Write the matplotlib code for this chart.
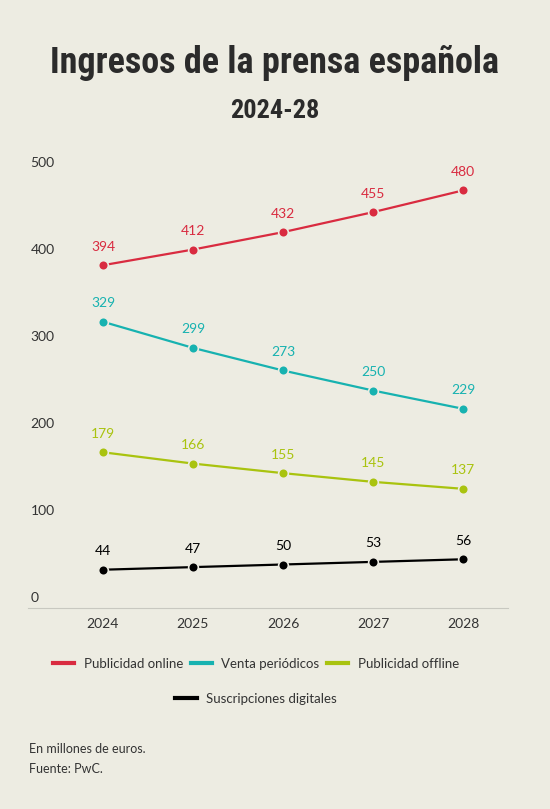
import matplotlib.pyplot as plt
from matplotlib.lines import Line2D
from matplotlib import transforms

years = [2024, 2025, 2026, 2027, 2028]
publicidad_online = [394, 412, 432, 455, 480]
venta_periodicos = [329, 299, 273, 250, 229]
publicidad_offline = [179, 166, 155, 145, 137]
suscripciones_digitales = [44, 47, 50, 53, 56]

series_names = ['Publicidad online', 'Venta periódicos', 'Publicidad offline', 'Suscripciones digitales']
series_values = [publicidad_online, venta_periodicos, publicidad_offline, suscripciones_digitales]
colors = ['#D92B40', '#17B2B0', '#A9C30F', '#000000']
y_ticks = [0, 100, 200, 300, 400, 500]

bg = '#EDECE2'
text_color = '#333333'
body_font = ['Lato', 'DejaVu Sans']
title_font = ['Roboto Condensed', 'DejaVu Sans Condensed', 'Liberation Sans Narrow', 'DejaVu Sans']

fig = plt.figure(figsize=(5.5, 8.09), dpi=100, facecolor=bg)
ax = fig.add_axes([28 / 550, 201 / 809, 480 / 550, 435 / 809])
ax.set_facecolor(bg)

for name, vals, c in zip(series_names, series_values, colors):
    ax.plot(years, vals, color=c, lw=1.6, marker='o', markersize=7,
            markeredgecolor=bg, markeredgewidth=1.2, label=name, clip_on=False, zorder=3)
    for x, v in zip(years, vals):
        ax.annotate(str(v), (x, v), xytext=(0, 9), textcoords='offset points',
                    ha='center', va='bottom', color=c, fontsize=10, family=body_font)

ax.set_xlim(2023.167, 2028.5)
ax.set_ylim(0, 500)
for s in ['top', 'right', 'left']:
    ax.spines[s].set_visible(False)
ax.spines['bottom'].set_color('#C8C8C0')
ax.spines['bottom'].set_linewidth(0.8)

ax.set_xticks(years)
ax.set_xticklabels([str(y) for y in years], family=body_font, fontsize=10, color=text_color)
ax.tick_params(axis='x', length=0, pad=7)
ax.set_yticks([])

off = transforms.offset_copy(ax.get_yaxis_transform(), fig=fig, x=0, y=7, units='points')
for t in y_ticks:
    ax.text(0.005, t, str(t), transform=off, ha='left', va='center',
            fontsize=10, color=text_color, family=body_font)

fig.text(0.5, 1 - 63 / 809, 'Ingresos de la prensa española', ha='center', va='center',
         fontsize=26, fontweight='bold', fontstretch='condensed', color='#2B2B2B', family=title_font)
fig.text(0.5, 1 - 111 / 809, '2024-28', ha='center', va='center',
         fontsize=19, fontweight='bold', fontstretch='condensed', color='#2B2B2B', family=title_font)

legend_prop = {'family': body_font, 'size': 9.5, 'weight': 'normal'}
handles = [Line2D([0], [0], color=c, lw=3) for c in colors]
leg1 = fig.legend(handles[:3], series_names[:3], loc='center', bbox_to_anchor=(256 / 550, 1 - 664 / 809),
                  ncol=3, frameon=False, handlelength=1.6, handletextpad=0.7, columnspacing=0.6,
                  prop=legend_prop)
leg2 = fig.legend(handles[3:], series_names[3:], loc='center', bbox_to_anchor=(256 / 550, 1 - 699 / 809),
                  ncol=1, frameon=False, handlelength=1.6, handletextpad=0.7,
                  prop=legend_prop)
for leg in (leg1, leg2):
    for t in leg.get_texts():
        t.set_color(text_color)

fig.text(29 / 550, 1 - 749 / 809, 'En millones de euros.', ha='left', va='center',
         fontsize=9, color=text_color, family=body_font)
fig.text(29 / 550, 1 - 769 / 809, 'Fuente: PwC.', ha='left', va='center',
         fontsize=9, color=text_color, family=body_font)

fig.savefig('out.png', dpi=100, facecolor=bg)
